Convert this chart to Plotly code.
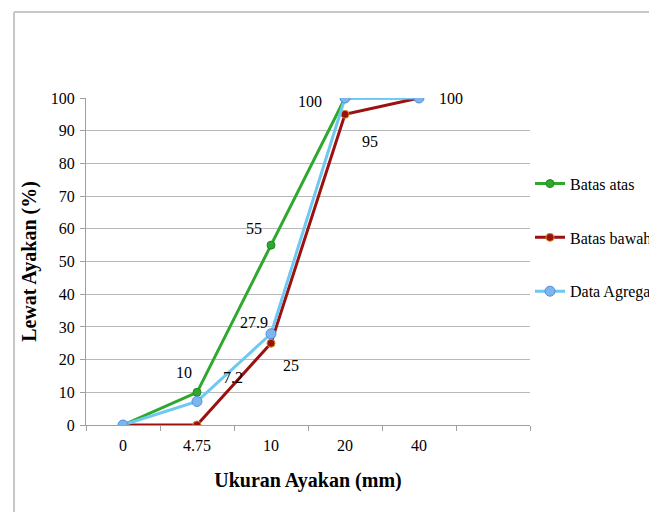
import plotly.graph_objects as go

sizes = ["0", "4.75", "10", "20", "40"]
batas_atas = [0, 10, 55, 100, 100]
batas_bawah = [0, 0, 25, 95, 100]
data_agregat = [0, 7.2, 27.9, 100, 100]

pos = list(range(len(sizes)))
FONT = "Liberation Serif"

# page offset compensation (body margin)
OX, OY = 6, 7
FW, FH = 657 - OX, 512 - OY
L, T, W, H = 84 - OX, 97 - OY, 444, 327

fig = go.Figure()
fig.add_trace(go.Scatter(x=pos, y=batas_atas, name="Batas atas", mode="lines+markers",
                         line=dict(color="#2ea82e", width=3),
                         marker=dict(color="#2ea82e", size=8, line=dict(color="#1f8a1f", width=1)),
                         legendgroup="a"))
fig.add_trace(go.Scatter(x=pos, y=batas_bawah, name="Batas bawah", mode="lines+markers",
                         line=dict(color="#9b1111", width=3),
                         marker=dict(color="#9b1111", size=8, line=dict(color="#d08a20", width=1)),
                         legendgroup="b"))
fig.add_trace(go.Scatter(x=pos, y=data_agregat, name="Data Agregat", mode="lines+markers",
                         line=dict(color="#6ec8f2", width=3),
                         marker=dict(color="#7db6ee", size=10, line=dict(color="#4f8fd8", width=1)),
                         legendgroup="c"))

# data labels: (series, index, dx, dy)
label_specs = [
    (batas_atas, 1, -13, 20), (batas_atas, 2, -17, 17), (batas_atas, 3, -35, -3),
    (batas_bawah, 2, 20, -22), (batas_bawah, 3, 25, -27),
    (data_agregat, 1, 36, 24), (data_agregat, 2, -17, 11), (data_agregat, 4, 32, 0),
]
for series, i, dx, dy in label_specs:
    v = series[i]
    fig.add_annotation(x=pos[i], y=v, text=f"{v:g}", showarrow=False, xshift=dx, yshift=dy,
                       font=dict(family=FONT, size=16, color="black"))

# outer chart frame (left and top edges visible)
bx0, by_top = (12 - 84) / W, (424 - 11) / H
fig.add_shape(type="line", xref="paper", yref="paper", x0=bx0, x1=bx0,
              y0=(424 - 600) / H, y1=by_top, line=dict(color="#c8c8c8", width=2), layer="below")
fig.add_shape(type="line", xref="paper", yref="paper", x0=bx0, x1=(760 - 84) / W,
              y0=by_top, y1=by_top, line=dict(color="#c8c8c8", width=2), layer="below")

fig.update_layout(
    width=FW, height=FH,
    margin=dict(l=L, r=FW - L - W, t=T, b=FH - T - H, autoexpand=False),
    paper_bgcolor="white", plot_bgcolor="white",
    font=dict(family=FONT, size=16, color="black"),
    showlegend=True,
    legend=dict(x=1.0, xanchor="left", y=0.79, yanchor="top", traceorder="grouped",
                tracegroupgap=30, font=dict(family=FONT, size=16, color="black"),
                bgcolor="rgba(0,0,0,0)", itemwidth=30),
    xaxis=dict(range=[-0.5, 5.5], tickvals=pos, ticktext=sizes, ticks="",
               showgrid=False, zeroline=False, showline=True, linecolor="#a0a0a0", linewidth=1,
               tickfont=dict(family=FONT, size=16), ticklabelstandoff=6,
               minor=dict(tick0=-0.5, dtick=1, ticks="outside", ticklen=5, tickcolor="#a0a0a0", showgrid=False),
               title=dict(text="<b>Ukuran Ayakan (mm)</b>", font=dict(family=FONT, size=20), standoff=19)),
    yaxis=dict(range=[0, 100], dtick=10, ticks="outside", ticklen=5, tickcolor="#a0a0a0",
               showgrid=True, gridcolor="#b8b8b8", gridwidth=1, zeroline=False,
               showline=True, linecolor="#a0a0a0", linewidth=1,
               tickfont=dict(family=FONT, size=16), ticklabelstandoff=2,
               title=dict(text="<b>Lewat Ayakan (%)</b>", font=dict(family=FONT, size=20), standoff=8)),
)

fig.write_html("out.html")
